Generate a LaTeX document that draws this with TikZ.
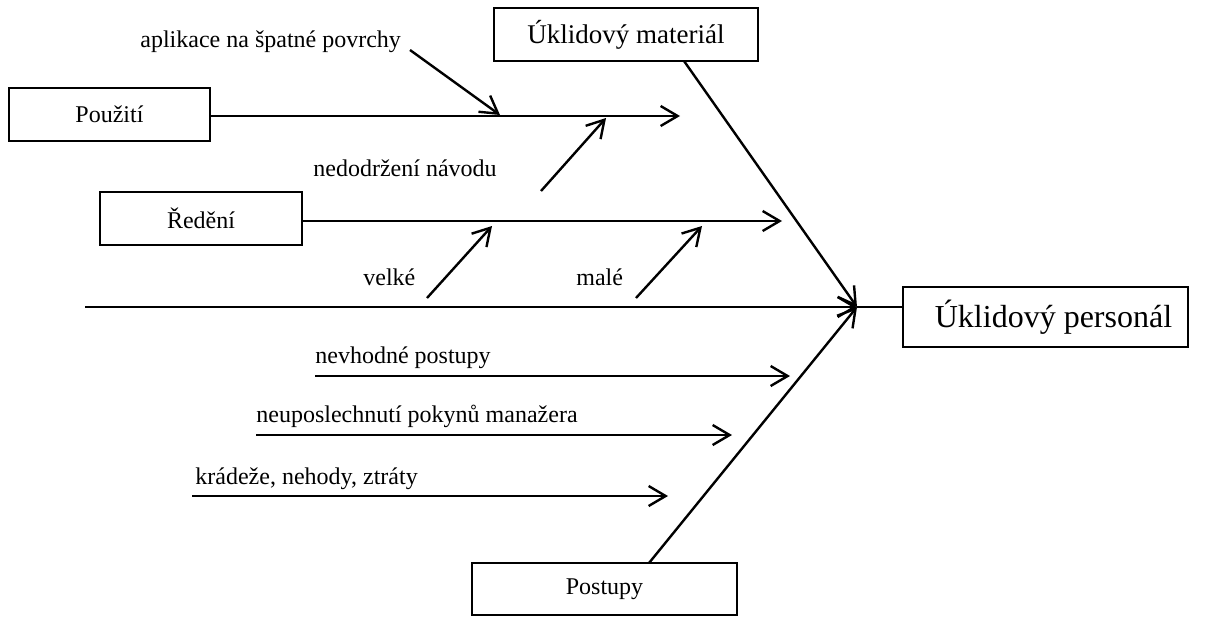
\documentclass[tikz,border=0pt]{standalone}
\usepackage{fontspec}
\setmainfont{Liberation Serif}
\usetikzlibrary{arrows.meta, positioning}

\begin{document}
\begin{tikzpicture}[x=0.5pt, y=-0.5pt,
    box/.style={draw, line width=0.9pt, inner sep=0pt, font=\fontsize{12}{14}\selectfont},
    bone/.style={line width=1.2pt, -{Straight Barb[length=8.5pt, width=10pt, line width=1.2pt]}},
    lbl/.style={anchor=base west, inner sep=0pt, font=\fontsize{12}{14}\selectfont}]
    \useasboundingbox (0,0) rectangle (1214,616);

    % Boxes
    \node[box, minimum width=132pt, minimum height=26.5pt, font=\fontsize{13.5}{16}\selectfont] (uklmat) at (626,34.5) {Úklidový materiál};
    \node[box, minimum width=100.5pt, minimum height=26.5pt] (pouziti) at (109.5,114.5) {Použití};
    \node[box, minimum width=101pt, minimum height=26.5pt] (redeni) at (201,218.5) {Ředění};
    \node[box, minimum width=142.5pt, minimum height=30pt, font=\fontsize{16}{18}\selectfont] (personal) at (1045.5,317) {\hspace*{8pt}Úklidový personál};
    \node[box, minimum width=132.5pt, minimum height=26pt] (postupy) at (604.5,589) {Postupy};

    % Head and tail of the spine
    \coordinate (head) at (857,307);
    \coordinate (tail) at (85,307);
    \draw[bone] (tail) -- (head);
    \draw[line width=1.2pt] (head) -- (head -| personal.west);

    % Main bones
    \coordinate (mat) at (684,61);
    \coordinate (pos) at (649,563);
    \draw[bone] (mat) -- (head);
    \draw[bone] (pos) -- (head);

    % Použití
    \coordinate (pouzitiEnd) at (680,116);
    \draw[bone] (pouziti.east |- pouzitiEnd) -- (pouzitiEnd);
    \coordinate (aplA) at (410,50);
    \coordinate (aplB) at (500,115);
    \draw[bone] (aplA) -- (aplB);
    \node[lbl] (apl) at (140,47) {aplikace na špatné povrchy};
    \coordinate (navA) at (541,191);
    \coordinate (navB) at (606,118);
    \draw[bone] (navA) -- (navB);
    \node[lbl] (nav) at (313,176) {nedodržení návodu};

    % Ředění
    \coordinate (redeniEnd) at (782,221);
    \draw[bone] (redeni.east |- redeniEnd) -- (redeniEnd);
    \coordinate (velA) at (427,298);
    \coordinate (velB) at (492,226);
    \draw[bone] (velA) -- (velB);
    \node[lbl] (vel) at (363,285) {velké};
    \coordinate (malA) at (636,298);
    \coordinate (malB) at (702,226);
    \draw[bone] (malA) -- (malB);
    \node[lbl] (mal) at (576,285) {malé};

    % Postupy
    \coordinate (nevA) at (315,376);
    \coordinate (nevB) at (790,376);
    \draw[bone] (nevA) -- (nevB);
    \node[lbl] (nev) at (315,363) {nevhodné postupy};
    \coordinate (neuA) at (256,435);
    \coordinate (neuB) at (732,435);
    \draw[bone] (neuA) -- (neuB);
    \node[lbl] (neu) at (256,422) {neuposlechnutí pokynů manažera};
    \coordinate (kraA) at (192,496);
    \coordinate (kraB) at (668,496);
    \draw[bone] (kraA) -- (kraB);
    \node[lbl] (kra) at (195,484) {krádeže, nehody, ztráty};
\end{tikzpicture}
\end{document}
